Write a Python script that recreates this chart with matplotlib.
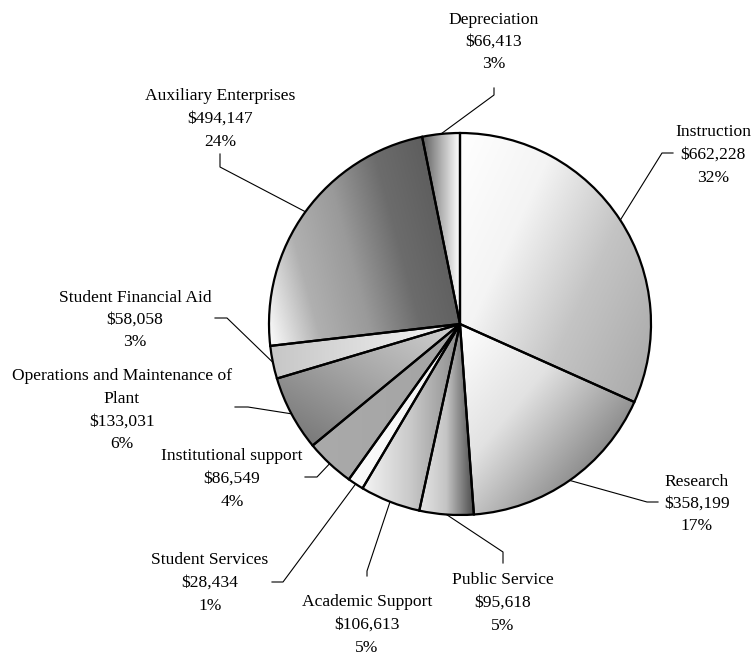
import matplotlib
matplotlib.use('Agg')
import matplotlib.pyplot as plt
import numpy as np
from matplotlib.colors import LinearSegmentedColormap

plt.rcParams['font.family'] = ['Liberation Serif', 'DejaVu Serif']

categories = ['Instruction', 'Research', 'Public Service', 'Academic Support',
              'Student Services', 'Institutional support',
              'Operations and Maintenance of\nPlant', 'Student Financial Aid',
              'Auxiliary Enterprises', 'Depreciation']
expenses = [662228, 358199, 95618, 106613, 28434, 86549, 133031, 58058,
            494147, 66413]

# shading of each slice: gradient direction (deg) and grey stops
grad_dirs = [-25, -40, 0, 0, 0, 0, -120, 0, 15, 0]
grad_stops = [
    ['#ffffff', '#f4f4f4', '#c4c4c4', '#acacac'],
    ['#ffffff', '#e2e2e2', '#8e8e8e'],
    ['#e6e6e6', '#c4c4c4', '#4c4c4c'],
    ['#f4f4f4', '#c8c8c8', '#8a8a8a'],
    ['#fbfbfb', '#f2f2f2'],
    ['#aaaaaa', '#a4a4a4'],
    ['#d2d2d2', '#a8a8a8', '#7a7a7a'],
    ['#c6c6c6', '#f6f6f6'],
    ['#fcfcfc', '#b0b0b0', '#9a9a9a', '#6c6c6c', '#5e5e5e'],
    ['#5e5e5e', '#b0b0b0', '#ffffff'],
]

# label placement in pixels: block centre and leader elbow
text_xy = [(713, 153), (697, 502), (503, 601), (367, 623), (210, 581),
           (232, 477), (122, 408), (135, 318), (220, 117), (494, 40)]
elbows = [[(673, 153), (662, 153)], [(658, 502), (647, 502)],
          [(503, 563), (503, 552)], [(367, 576), (367, 571)],
          [(272, 582), (283, 582)], [(305, 477), (317, 477)],
          [(235, 407), (248, 407)], [(215, 318), (227, 318)],
          [(220, 154), (220, 167)], [(494, 88), (494, 95)]]

W, H = 752, 654
CX, CY, R = 460, 324, 191


def px(x, y):
    return (x - CX) / R, (CY - y) / R


fig = plt.figure(figsize=(W / 100, H / 100), dpi=100)
ax = fig.add_axes([0, 0, 1, 1])

wedges, _ = ax.pie(expenses, startangle=90, counterclock=False,
                   radius=1, center=(0, 0), frame=False,
                   wedgeprops=dict(facecolor='none', edgecolor='black',
                                   linewidth=1.6, zorder=3))

total = sum(expenses)
for i, w in enumerate(wedges):
    t1, t2 = w.theta1, w.theta2
    ang = np.radians(np.linspace(t1, t2, 60))
    pts = np.vstack([[0, 0], np.column_stack([np.cos(ang), np.sin(ang)])])
    a = np.radians(grad_dirs[i])
    d = np.array([np.cos(a), np.sin(a)])
    proj = pts @ d
    x0, y0 = pts.min(axis=0) - 0.02
    x1, y1 = pts.max(axis=0) + 0.02
    X, Y = np.meshgrid(np.linspace(x0, x1, 300), np.linspace(y0, y1, 300))
    t = (X * d[0] + Y * d[1] - proj.min()) / (proj.max() - proj.min())
    cmap = LinearSegmentedColormap.from_list('g%d' % i, grad_stops[i])
    im = ax.imshow(cmap(np.clip(t, 0, 1)), extent=[x0, x1, y0, y1],
                   origin='lower', interpolation='bilinear', zorder=1)
    im.set_clip_path(w)

    # leader line from slice edge to label
    mid = np.radians((t1 + t2) / 2)
    lx = [np.cos(mid)] + [px(*p)[0] for p in elbows[i][::-1]]
    ly = [np.sin(mid)] + [px(*p)[1] for p in elbows[i][::-1]]
    ax.plot(lx, ly, color='black', lw=0.8, zorder=2)

    lines = categories[i].split('\n') + ['${:,}'.format(expenses[i]),
                                         '{:.0f}%'.format(expenses[i] / total * 100)]
    cx, cy = text_xy[i]
    n = len(lines)
    for k, s in enumerate(lines):
        yy = cy + (k - (n - 1) / 2) * 22.5 + 6
        ax.text(*px(cx, yy), s, ha='center', va='baseline', fontsize=12.6,
                color='black', zorder=4)

ax.set_xlim(-CX / R, (W - CX) / R)
ax.set_ylim(-(H - CY) / R, CY / R)
ax.set_aspect('auto')
ax.axis('off')

fig.savefig('out.png', dpi=100, facecolor='white')
